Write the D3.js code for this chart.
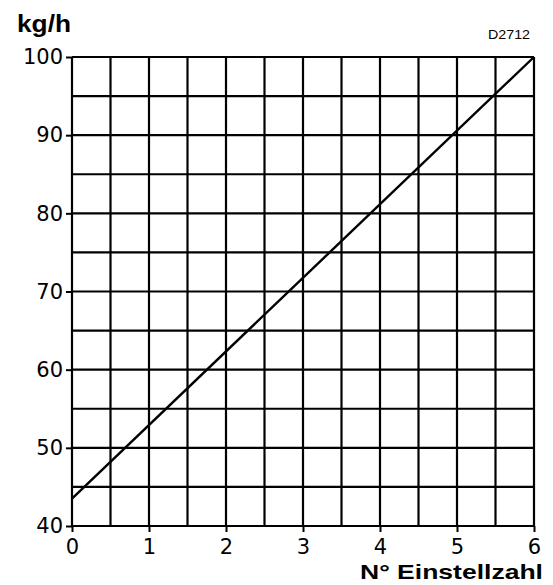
<!DOCTYPE html>
<html><head><meta charset="utf-8">
<script src="https://cdn.jsdelivr.net/npm/d3@7"></script>
<style>body{margin:0;background:#fff}svg{display:block}</style>
</head><body>
<script>
const xTicks = [0,1,2,3,4,5,6];
const yTicks = [40,50,60,70,80,90,100];
const xGrid = [0,0.5,1,1.5,2,2.5,3,3.5,4,4.5,5,5.5,6];
const yGrid = [40,45,50,55,60,65,70,75,80,85,90,95,100];
const lineX = [0,6];
const lineY = [43.5,100];

const W=553,H=585;
const svg=d3.select("body").append("svg").attr("width",W).attr("height",H);
const x=d3.scaleLinear().domain([0,6]).range([72,534]);
const y=d3.scaleLinear().domain([40,100]).range([526,57]);

const g=svg.append("g");
g.selectAll("line.v").data(xGrid).enter().append("line")
 .attr("x1",d=>x(d)).attr("x2",d=>x(d)).attr("y1",y(40)).attr("y2",y(100))
 .attr("stroke","#000").attr("stroke-width",2.2);
g.selectAll("line.h").data(yGrid).enter().append("line")
 .attr("y1",d=>y(d)).attr("y2",d=>y(d)).attr("x1",x(0)).attr("x2",x(6))
 .attr("stroke","#000").attr("stroke-width",2.2);

const tickFont="'DejaVu Sans', sans-serif";
const yAxis=svg.append("g").attr("transform",`translate(${x(0)},0)`)
 .call(d3.axisLeft(y).tickValues(yTicks).tickSize(6).tickPadding(3).tickFormat(d3.format("d")));
const xAxis=svg.append("g").attr("transform",`translate(0,${y(40)})`)
 .call(d3.axisBottom(x).tickValues(xTicks).tickSize(6).tickPadding(7).tickFormat(d3.format("d")));
[xAxis,yAxis].forEach(a=>{
 a.select(".domain").remove();
 a.selectAll(".tick line").attr("stroke","#000").attr("stroke-width",2);
 a.selectAll(".tick text").attr("fill","#000").style("font-family",tickFont).style("font-size","21px").style("font-weight","normal");
});

const line=d3.line().x(d=>x(d[0])).y(d=>y(d[1]));
svg.append("path").datum(lineX.map((v,i)=>[v,lineY[i]])).attr("d",line)
 .attr("fill","none").attr("stroke","#000").attr("stroke-width",2.4);

svg.append("text").attr("x",17).attr("y",32).text("kg/h")
 .attr("textLength",54).attr("lengthAdjust","spacingAndGlyphs")
 .style("font-family","'Liberation Sans', Arial, sans-serif").style("font-weight","bold").style("font-size","23px");
svg.append("text").attr("x",488).attr("y",39).text("D2712")
 .attr("textLength",42).attr("lengthAdjust","spacingAndGlyphs")
 .style("font-family","'Liberation Sans', Arial, sans-serif").style("font-size","13px");
svg.append("text").attr("x",360).attr("y",579).text("N° Einstellzahl")
 .attr("textLength",183).attr("lengthAdjust","spacingAndGlyphs")
 .style("font-family","'Liberation Sans', Arial, sans-serif").style("font-weight","bold").style("font-size","21px");
</script>
</body></html>
